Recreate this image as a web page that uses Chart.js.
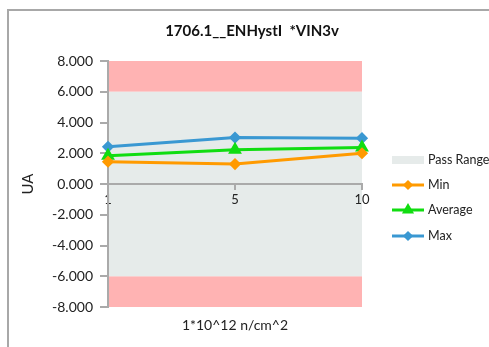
<!DOCTYPE html>
<html>
<head>
<meta charset="utf-8">
<script src="https://cdn.jsdelivr.net/npm/chart.js@4.4.1/dist/chart.umd.min.js"></script>
<style>
  html, body { margin: 0; padding: 0; background: #fff; }
  #wrap { position: relative; width: 489px; height: 347px; }
  #frame { position: absolute; left: 7px; top: 9px; right: -5px; bottom: -5px;
           border-left: 2px solid #a8a8a8; border-top: 2px solid #a8a8a8; pointer-events: none; }
</style>
</head>
<body>
<div id="wrap">
  <canvas id="myChart" width="489" height="347"></canvas>
  <div id="frame"></div>
</div>
<script>
const labels = ['1', '5', '10'];
const minValues = [1.45, 1.30, 2.00];
const avgValues = [1.83, 2.22, 2.38];
const maxValues = [2.42, 3.02, 2.98];
const passBand = [-6, 6];
const limitBand = [-8, 8];
const yTicks = { min: -8, max: 8, step: 2 };

const font = 'Lato, "Open Sans", sans-serif';

// pink limit zones + grey pass range behind the lines
const bands = {
  id: 'bands',
  beforeDraw(chart) {
    const { ctx, chartArea: a, scales: { y } } = chart;
    ctx.save();
    ctx.fillStyle = '#ffb3b3';
    ctx.fillRect(a.left, y.getPixelForValue(limitBand[1]), a.width, y.getPixelForValue(passBand[1]) - y.getPixelForValue(limitBand[1]));
    ctx.fillRect(a.left, y.getPixelForValue(passBand[0]), a.width, y.getPixelForValue(limitBand[0]) - y.getPixelForValue(passBand[0]));
    ctx.fillStyle = '#e6ebea';
    ctx.fillRect(a.left, y.getPixelForValue(passBand[1]), a.width, y.getPixelForValue(passBand[0]) - y.getPixelForValue(passBand[1]));
    ctx.restore();
  }
};

// legend drawn at the right, like the spreadsheet one
const sideLegend = {
  id: 'sideLegend',
  afterDraw(chart) {
    const ctx = chart.ctx;
    const x0 = 392, x1 = 424, tx = 428;
    ctx.save();
    ctx.font = '12.5px ' + font;
    ctx.textBaseline = 'middle';
    ctx.fillStyle = '#e6ebea';
    ctx.fillRect(x0, 156, x1 - x0, 8);
    ctx.fillStyle = '#222';
    ctx.fillText('Pass Range', tx, 160);
    const ys = [185, 210, 236];
    chart.data.datasets.forEach((ds, i) => {
      const yy = ys[i];
      ctx.strokeStyle = ds.borderColor;
      ctx.lineWidth = 3;
      ctx.beginPath(); ctx.moveTo(x0, yy); ctx.lineTo(x1, yy); ctx.stroke();
      Chart.helpers.drawPoint(ctx, { pointStyle: ds.pointStyle, radius: ds.pointRadius - 1, borderWidth: 1 }, (x0 + x1) / 2, yy);
      ctx.fillStyle = ds.borderColor;
      ctx.fill();
      ctx.fillStyle = '#222';
      ctx.fillText(ds.label, tx, yy);
    });
    ctx.restore();
  }
};

const data = {
  labels: labels,
  datasets: [
    { label: 'Min', data: minValues, borderColor: '#ff9a00', backgroundColor: '#ff9a00',
      borderWidth: 3, pointStyle: 'rectRot', pointRadius: 4, tension: 0 },
    { label: 'Average', data: avgValues, borderColor: '#11dd11', backgroundColor: '#11dd11',
      borderWidth: 3, pointStyle: 'triangle', pointRadius: 5, tension: 0 },
    { label: 'Max', data: maxValues, borderColor: '#3a98d2', backgroundColor: '#3a98d2',
      borderWidth: 3, pointStyle: 'rectRot', pointRadius: 4, tension: 0 }
  ]
};

const config = {
  type: 'line',
  data: data,
  plugins: [bands, sideLegend],
  options: {
    responsive: false,
    animation: false,
    layout: { padding: { left: 15, top: 9, right: 0, bottom: 0 } },
    plugins: {
      legend: { display: false },
      tooltip: { enabled: false },
      title: {
        display: true,
        text: '1706.1__ENHystI  *VIN3v',
        color: '#111',
        font: { family: font, size: 15, weight: 'bold' },
        padding: { top: 13, bottom: 21 }
      }
    },
    scales: {
      x: {
        type: 'category',
        offset: false,
        position: { y: 0 },
        grid: { drawOnChartArea: false, tickLength: 5, color: '#aaa', lineWidth: 2 },
        border: { color: '#aaa', width: 2 },
        ticks: { color: '#222', font: { family: font, size: 13 }, padding: 3,
                 maxRotation: 0, autoSkip: false }
      },
      x2: {
        type: 'category',
        position: 'bottom',
        labels: labels,
        grid: { display: false },
        border: { display: false },
        ticks: { display: false },
        title: { display: true, text: '1*10^12 n/cm^2', color: '#222',
                 font: { family: font, size: 14 }, padding: { top: 4, bottom: 13 } },
        afterFit(s) { s.height = 40; }
      },
      y: {
        min: yTicks.min,
        max: yTicks.max,
        grid: { drawOnChartArea: false, tickLength: 8, color: '#aaa', lineWidth: 2 },
        border: { color: '#aaa', width: 2 },
        ticks: { stepSize: yTicks.step, color: '#222', padding: 7,
                 font: { family: font, size: 14 },
                 callback: v => v.toFixed(3) },
        title: { display: true, text: 'UA', color: '#222',
                 font: { family: font, size: 15 }, padding: { top: 4, bottom: 4 } },
        afterFit(s) { s.width = 93; }
      },
      // empty right-hand box that leaves room for the legend
      yRight: {
        position: 'right',
        display: true,
        grid: { display: false },
        border: { display: false },
        ticks: { display: false },
        afterFit(s) { s.width = 127; }
      }
    }
  }
};

const myChart = new Chart(document.getElementById('myChart'), config);
</script>
</body>
</html>
